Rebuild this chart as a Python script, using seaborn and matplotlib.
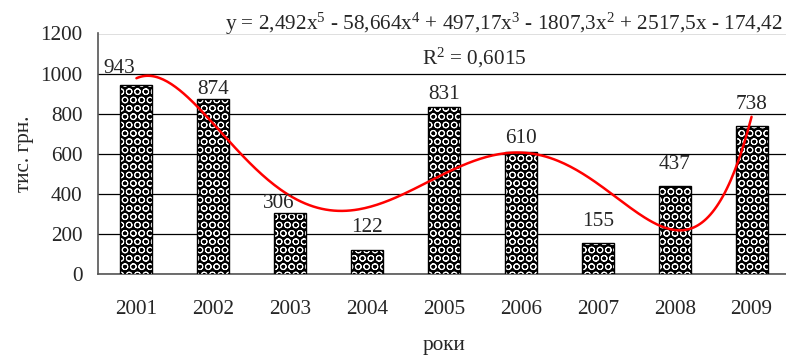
import numpy as np
import matplotlib
matplotlib.use("Agg")
import matplotlib.pyplot as plt
import seaborn as sns
from matplotlib.patches import Rectangle

# data
years = ["2001", "2002", "2003", "2004", "2005", "2006", "2007", "2008", "2009"]
values = [943, 874, 306, 122, 831, 610, 155, 437, 738]
# trendline coefficients (highest power first), as printed on the chart
trend_coefs = [2.492, -58.664, 497.17, -1807.3, 2517.5, -174.42]
r_squared = "0,6015"
y_ticks = [0, 200, 400, 600, 800, 1000, 1200]

# label nudges in pixels (some labels were moved by hand in the original)
label_dx = [-17, 0, -11, 0, 0, 0, 0, 0, 0]
label_dy = [10, 3, 2, 15, 6, 7, 15, 15, 15]

sns.set_style("white")
plt.rcParams['font.family'] = ['Liberation Serif', 'DejaVu Serif']
plt.rcParams['mathtext.fontset'] = 'custom'
plt.rcParams['mathtext.rm'] = 'Liberation Serif'
plt.rcParams['mathtext.default'] = 'regular'
plt.rcParams['hatch.linewidth'] = 0.7
fs = 15.3
PX = 0.72  # points per pixel at dpi 100

fig = plt.figure(figsize=(7.86, 3.56), dpi=100)
ax = fig.add_axes([98 / 786, 82 / 356, 692 / 786, 240.5 / 356])

sns.barplot(x=years, y=values, color='black', width=0.415, ax=ax,
            saturation=1, zorder=3)

# pattern fill: white spheres on black, black outline
for p in ax.patches:
    p.set_facecolor('black')
    p.set_edgecolor('white')
    p.set_hatch('OO')
    p.set_linewidth(0)
    ax.add_patch(Rectangle(p.get_xy(), p.get_width(), p.get_height(),
                           fill=False, edgecolor='black', linewidth=1.0, zorder=4))

# value labels
for i, v in enumerate(values):
    ax.annotate(str(v), (i, v), xytext=(label_dx[i] * PX, label_dy[i] * PX - 2),
                textcoords='offset points', ha='center', va='bottom',
                fontsize=fs, zorder=6)

# polynomial trendline (x = 1..9 maps onto category positions 0..8)
xs = np.linspace(1, 9, 300)
ax.plot(xs - 1, np.polyval(trend_coefs, xs), color='red', linewidth=1.8, zorder=5)

ax.set_ylim(0, 1200)
ax.set_xlim(-0.5, 8.5)
ax.set_yticks(y_ticks)
ax.set_yticklabels([str(t) for t in y_ticks], fontsize=fs)
ax.set_xticks(range(len(years)))
ax.set_xticklabels(years, fontsize=fs)
ax.set_xticks(np.arange(0.5, 8.5, 1), minor=True)
ax.tick_params(axis='x', which='major', length=0, pad=19)
ax.tick_params(axis='x', which='minor', length=5, color='#555555', width=1)
ax.tick_params(axis='y', length=5, color='#555555', width=1, pad=6)

ax.yaxis.grid(True, color='black', linewidth=0.9, zorder=0)
ax.set_axisbelow(True)
for s in ['top', 'right']:
    ax.spines[s].set_visible(False)
for s in ['left', 'bottom']:
    ax.spines[s].set_color('#555555')
    ax.spines[s].set_linewidth(1.2)

ax.set_ylabel('тис. грн.', fontsize=fs, labelpad=5)
ax.set_xlabel('роки', fontsize=fs, labelpad=12)

eq = ("y = 2,492x$^{5}$ - 58,664x$^{4}$ + 497,17x$^{3}$ - 1807,3x$^{2}$"
      " + 2517,5x - 174,42")
fig.text(504 / 786, 1 - 24 / 356, eq, ha='center', va='center', fontsize=fs)
fig.text(474 / 786, 1 - 58 / 356, "R$^{2}$ = " + r_squared, ha='center',
         va='center', fontsize=fs)

fig.savefig('out.png', dpi=100)
